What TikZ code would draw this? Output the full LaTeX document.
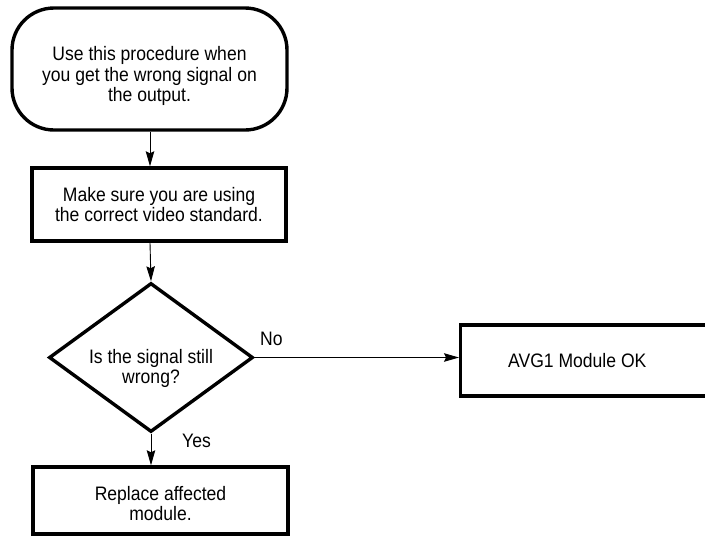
\documentclass[tikz,border=0pt]{standalone}
\usepackage{fontspec}
\setmainfont[FakeStretch=0.9]{Liberation Sans}
\usetikzlibrary{shapes.geometric,arrows.meta}
\begin{document}
\begin{tikzpicture}[x=1pt,y=-1pt,
  txt/.style={font=\fontsize{19.5}{20.5}\selectfont, align=center, inner sep=0pt},
  frame/.style={draw, line width=3.4pt, inner sep=0pt},
  termbox/.style={frame, rectangle, rounded corners=42pt},
  stepbox/.style={frame, rectangle},
  decide/.style={frame, diamond},
  flow/.style={line width=0.9pt, -{Stealth[length=15pt,width=8.5pt,inset=2pt]}},
  tag/.style={font=\fontsize{19.5}{20.5}\selectfont, inner sep=0pt, anchor=base west}]
\clip (0,0) rectangle (705,536);

% outlines of the flowchart symbols
\node[termbox, minimum width=275pt, minimum height=122pt] (start) at (149.5,69) {};
\node[stepbox, minimum width=254pt, minimum height=73pt] (std) at (159,204.5) {};
\node[decide, minimum width=204pt, minimum height=149pt] (ask) at (151,357.5) {};
\node[stepbox, minimum width=255pt, minimum height=67pt] (repl) at (160.5,500.5) {};
\node[stepbox, anchor=west, minimum width=300pt, minimum height=71pt] (ok) at (459,360.5) {};

% texts inside the symbols
\node[txt] (starttxt) at ([yshift=-7pt]start.center)
  {Use this procedure when\\you get the wrong signal on\\the output.};
\node[txt] (stdtxt) at ([yshift=0pt]std.center)
  {Make sure you are using\\the correct video standard.};
\node[txt] (asktxt) at ([yshift=-11pt]ask.center)
  {Is the signal still\\wrong?};
\node[txt] (repltxt) at ([yshift=-3pt]repl.center)
  {Replace affected\\module.};
\node[txt, anchor=west] (oktxt) at ([xshift=49pt]ok.west) {AVG1 Module OK};

% connectors
\coordinate (a1) at (start.south -| 150,0);
\coordinate (a2) at (std.south -| 150,0);
\coordinate (a3) at (repl.north -| ask.south);

\draw[flow] (a1) -- (a1 |- std.north);
\draw[flow] (a2) -- (ask.north);
\draw[flow] (ask.south) -- (a3);
\draw[flow] (ask.east) -- (ask.east -| ok.west);

\node[tag] (no) at (260,345) {No};
\node[tag] (yes) at (182,447) {Yes};
\end{tikzpicture}
\end{document}
